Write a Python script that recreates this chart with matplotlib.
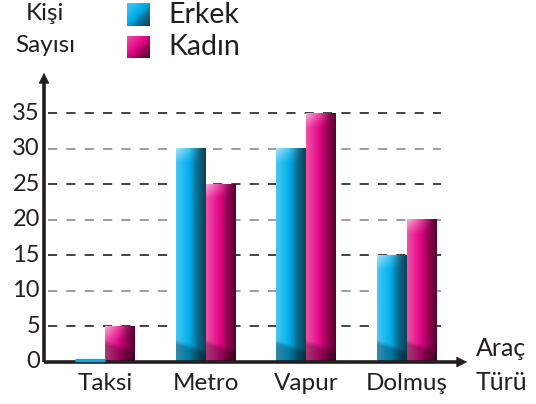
import numpy as np
import matplotlib
matplotlib.use("Agg")
import matplotlib.pyplot as plt
from matplotlib.transforms import offset_copy

# data
araclar = ["Taksi", "Metro", "Vapur", "Dolmuş"]
erkek = [0, 30, 30, 15]
kadin = [5, 25, 35, 20]
y_ticks = [0, 5, 10, 15, 20, 25, 30, 35]

plt.rcParams['font.family'] = ['Lato', 'DejaVu Sans']
TXT = "#231f20"

W, H = 536, 404
fig = plt.figure(figsize=(W / 100, H / 100), dpi=100)

# axes placed in pixel terms: x axis from 44 to 470, y from 362 up to 70
ax = fig.add_axes([44 / W, (H - 362) / H, (470 - 44) / W, (362 - 70) / H])
PX_PER_UNIT = (362 - 113) / 35.0
ymax = (362 - 70) / PX_PER_UNIT
step = 100.7
xmin, xmax = (44 - 105) / step, (470 - 105) / step
ax.set_xlim(xmin, xmax)
ax.set_ylim(0, ymax)
ax.axis("off")

# dashed grid, alternating dark / grey
for v in y_ticks[1:]:
    col = "#222222" if (v // 5) % 2 == 1 else "#8c8c8c"
    ax.plot([(48 - 105) / step, (441 - 105) / step], [v, v], color=col,
            lw=1.2, ls=(0, (5.5, 5.5)), zorder=1, solid_capstyle="butt")


def ramp(stops, n):
    t = np.linspace(0, 1, n)
    pos = [s[0] for s in stops]
    out = np.zeros((n, 3))
    for c in range(3):
        out[:, c] = np.interp(t, pos, [s[1][c] for s in stops])
    return out


cyan_stops = [(0, (0.28, 0.78, 0.95)), (0.45, (0.0, 0.68, 0.92)),
              (0.72, (0.04, 0.42, 0.56)), (1, (0.05, 0.26, 0.34))]
pink_stops = [(0, (0.93, 0.32, 0.65)), (0.45, (0.89, 0.02, 0.53)),
              (0.72, (0.58, 0.0, 0.32)), (1, (0.35, 0.0, 0.19))]


def gradient_bar(x0, width, h, stops):
    hp = max(int(round(h * PX_PER_UNIT)), 2)
    nx = 30
    base = ramp(stops, nx)
    img = np.tile(base[None, :, :], (hp, 1, 1))
    rows = np.arange(hp)[:, None]          # 0 = top
    cols = np.linspace(0, 1, nx)[None, :]
    # soft light cap at the top
    hl = np.clip(1 - rows / 14.0, 0, 1) * np.clip(1 - cols * 1.1, 0, 1) * 0.5
    img = img + (1 - img) * hl[:, :, None]
    # darker diagonal base
    from_bottom = hp - 1 - rows
    edge = 12 + 10 * (1 - cols)
    dk = np.clip((edge - from_bottom) / 5.0, 0, 1) * 0.3
    img = img * (1 - dk[:, :, None])
    ax.imshow(img, extent=(x0, x0 + width, 0, h), aspect="auto",
              interpolation="bilinear", zorder=3, origin="upper")


bw = 30 / step
lift = offset_copy(ax.transData, fig=fig, x=0, y=2.2, units="dots")
for i in range(len(araclar)):
    if erkek[i] > 0:
        gradient_bar(i - bw, bw, erkek[i], cyan_stops)
    else:
        # zero-height bar shown as a thin strip sitting on the axis
        ax.plot([i - bw, i], [erkek[i], erkek[i]], color="#12a9e3", lw=2.4,
                zorder=5, solid_capstyle="butt", transform=lift, clip_on=False)
    gradient_bar(i, bw, kadin[i], pink_stops)

# axis lines with arrows
ax.plot([xmin, xmax - 0.08], [0, 0], color=TXT, lw=2.6, zorder=4,
        clip_on=False, solid_capstyle="butt")
ax.plot([xmin, xmin], [0, ymax - 1.2], color=TXT, lw=2.6, zorder=4,
        clip_on=False, solid_capstyle="butt")
ax.annotate("", xy=(xmax, 0), xytext=(xmax - 0.12, 0),
            arrowprops=dict(arrowstyle="-|>,head_length=0.7,head_width=0.35",
                            color=TXT, lw=0.5), annotation_clip=False)
ax.annotate("", xy=(xmin, ymax), xytext=(xmin, ymax - 2),
            arrowprops=dict(arrowstyle="-|>,head_length=0.7,head_width=0.35",
                            color=TXT, lw=0.5), annotation_clip=False)

# tick labels
for v in y_ticks:
    ax.text(xmin - 4 / step, v, str(v), ha="right", va="center",
            fontsize=17, color=TXT, clip_on=False)
for i, name in enumerate(araclar):
    ax.text(i, -21 / PX_PER_UNIT, name, ha="center", va="center",
            fontsize=17.5, color=TXT, clip_on=False)

# axis titles
fig.text(45 / W, 1 - 14 / H, "Kişi", ha="center", va="center", fontsize=17.5, color=TXT)
fig.text(45 / W, 1 - 46 / H, "Sayısı", ha="center", va="center", fontsize=17.5, color=TXT)
fig.text(476 / W, 1 - 349 / H, "Araç", ha="left", va="center", fontsize=18, color=TXT)
fig.text(476 / W, 1 - 382 / H, "Türü", ha="left", va="center", fontsize=18, color=TXT)

# legend squares with the same shading
for lab, stops, yc in [("Erkek", cyan_stops, 15), ("Kadın", pink_stops, 47)]:
    lax = fig.add_axes([127 / W, 1 - (yc + 11.5) / H, 23 / W, 23 / H])
    n = 24
    g = ramp(stops, n)
    sq = np.zeros((n, n, 3))
    for r in range(n):
        for c in range(n):
            t = (r + c) / (2 * (n - 1))
            sq[r, c] = g[min(int(t * (n - 1)), n - 1)]
    lax.imshow(sq, interpolation="bilinear", aspect="auto")
    lax.axis("off")
    fig.text(168 / W, 1 - yc / H, lab, ha="left", va="center", fontsize=20.5, color=TXT)

fig.savefig("out.png", dpi=100)
